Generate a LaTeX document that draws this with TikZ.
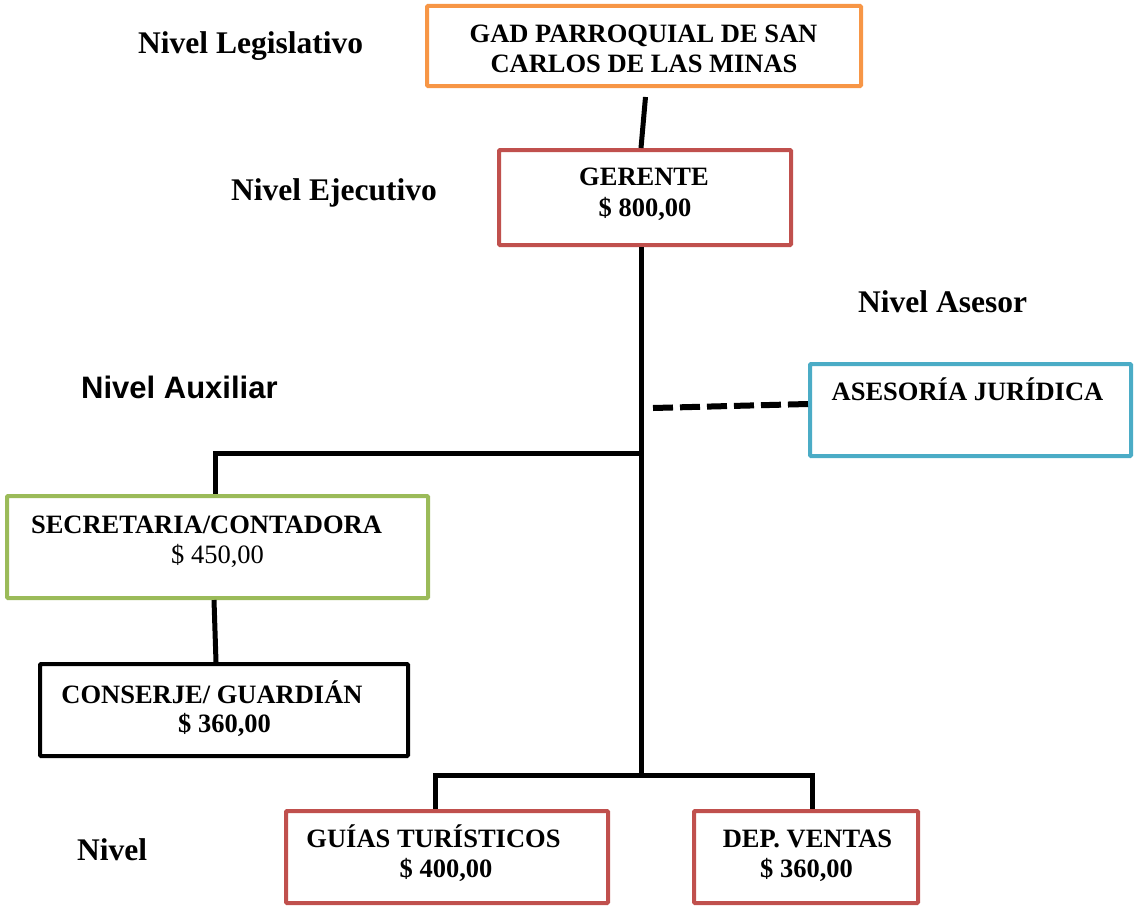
\documentclass[tikz,border=0pt]{standalone}
\usepackage{fontspec}
\setmainfont{Liberation Serif}
\newfontfamily\arialfont{Liberation Sans}
\definecolor{cOrange}{HTML}{F79646}
\definecolor{cRed}{HTML}{C0504D}
\definecolor{cBlue}{HTML}{4BACC6}
\definecolor{cGreen}{HTML}{9BBB59}
\begin{document}
\begin{tikzpicture}[x=1pt,y=-1pt,
  box/.style={draw, line width=4pt, rounded corners=1pt, inner sep=0pt, fill=white},
  txt/.style={anchor=base, inner sep=0pt, font=\fontsize{26.5}{31}\selectfont\bfseries},
  txtn/.style={anchor=base, inner sep=0pt, font=\fontsize{26.5}{31}\selectfont},
  lvl/.style={anchor=base west, inner sep=0pt, font=\fontsize{31.5}{36}\selectfont\bfseries},
  conn/.style={line width=5pt, black},
  dconn/.style={line width=6pt, black, dash pattern=on 20pt off 7pt}
]
\useasboundingbox (0,0) rectangle (1134,907);

% boxes
\node[box, draw=cOrange, minimum width=434pt, minimum height=80pt] (gad) at (644,46) {};
\node[box, draw=cRed, minimum width=292pt, minimum height=95pt] (ger) at (645,197.5) {};
\node[box, draw=cBlue, minimum width=321pt, minimum height=92pt] (ase) at (970.5,410) {};
\node[box, draw=cGreen, minimum width=421pt, minimum height=102pt] (sec) at (217.5,547) {};
\node[box, draw=black, minimum width=368pt, minimum height=92pt] (con) at (224,710) {};
\node[box, draw=cRed, minimum width=322pt, minimum height=92pt] (gui) at (447,857) {};
\node[box, draw=cRed, minimum width=224pt, minimum height=92pt] (dep) at (806,857) {};

% texts in boxes
\node[txt] (gad1) at (643.5,43) {GAD PARROQUIAL DE SAN};
\node[txt] (gad2) at (644,73) {CARLOS DE LAS MINAS};
\node[txt] (ger1) at (644,185) {GERENTE};
\node[txt] (ger2) at (645,216) {\$ 800,00};
\node[txt] (ase1) at (967.5,400) {ASESORÍA JURÍDICA};
\node[txt] (sec1) at (206.5,533) {SECRETARIA/CONTADORA};
\node[txtn] (sec2) at (217.5,563) {\$ 450,00};
\node[txt] (con1) at (212,703) {CONSERJE/ GUARDIÁN};
\node[txt] (con2) at (224.5,732) {\$ 360,00};
\node[txt] (gui1) at (433.5,847) {GUÍAS TURÍSTICOS};
\node[txt] (gui2) at (446,877) {\$ 400,00};
\node[txt] (dep1) at (807.5,847) {DEP. VENTAS};
\node[txt] (dep2) at (806.5,877) {\$ 360,00};

% level labels
\node[lvl] (lleg) at (138,54) {Nivel Legislativo};
\node[lvl] (leje) at (231,200) {Nivel Ejecutivo};
\node[lvl] (lase) at (858,312) {Nivel Asesor};
\node[lvl, font=\fontsize{31}{36}\selectfont\arialfont\bfseries] (laux) at (81,398) {Nivel Auxiliar};
\node[lvl] (lniv) at (77,860) {Nivel};

% connectors
\coordinate (gadtail) at (645.5,97);
\coordinate (j1) at (641,453);
\coordinate (j2) at (641,775);
\coordinate (dstart) at (653,408);
\draw[conn] (gadtail) -- ([xshift=-4pt]ger.north);
\draw[conn] (ger.south -| j1) -- (j2);
\draw[conn] (j1) -| ([xshift=-2.5pt]sec.north);
\draw[conn] ([xshift=-3.5pt]sec.south) -- ([xshift=-8pt]con.north);
\draw[conn] (j2) -| ([xshift=-12pt]gui.north);
\draw[conn] (j2) -| ([xshift=6pt]dep.north);
\draw[dconn] (dstart) -- ([yshift=6pt]ase.west);
\end{tikzpicture}
\end{document}
